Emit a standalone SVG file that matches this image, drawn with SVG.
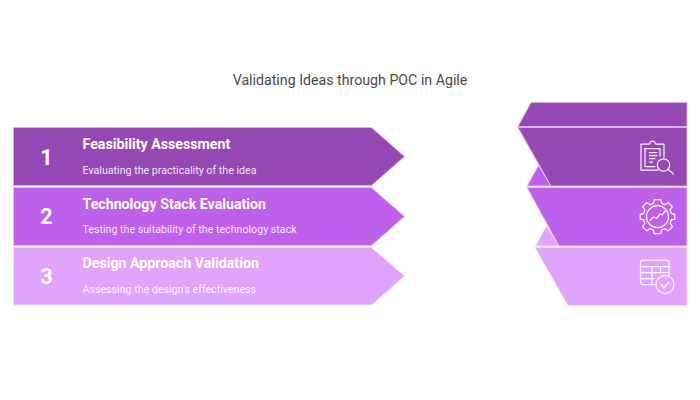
<svg xmlns="http://www.w3.org/2000/svg" width="700" height="400" viewBox="0 0 700 400">
<style>
text{font-family:Roboto,"Liberation Sans",sans-serif}
.title{font-size:14.2px;fill:#4a4a4a;text-anchor:middle}
.num{font-size:21.5px;font-weight:700;fill:#fff;text-anchor:middle}
.head{font-size:14.2px;font-weight:700;fill:#fff}
.sub{font-size:10.67px;fill:#fff;fill-opacity:.88}
.d{fill:#9649b5}.m{fill:#bd60ec}.l{fill:#e0a4fe}
.e1{stroke:#d5b6e2;stroke-width:1}.e2{stroke:#e5c4f8;stroke-width:1}.e3{stroke:#f2dcff;stroke-width:1}
.i{fill:none;stroke:#fff;stroke-opacity:.92;stroke-width:1.25;stroke-linecap:round;stroke-linejoin:round}
</style>
<rect width="700" height="400" fill="#fff"/>
<text class="title" x="350" y="85">Validating Ideas through POC in Agile</text>
<g id="back-shapes">
<path class="m e2" d="M527 186L538.500 165.500L551 186Z"/>
<path class="l e3" d="M535.500 246L546.500 226L559 246Z"/>
</g>
<g id="node-1">
<path class="d e1" d="M13.500 127.500H371.500L404.500 156.500L371.500 185.500H13.500Z"/>
<text class="num" x="46.500" y="164.500">1</text>
<text class="head" x="82.500" y="149">Feasibility Assessment</text>
<text class="sub" x="82.500" y="173.500">Evaluating the practicality of the idea</text>
</g>
<g id="node-2">
<path class="m e2" d="M13.500 187.500H371.500L404.500 216.500L371.500 245.500H13.500Z"/>
<text class="num" x="46.500" y="224">2</text>
<text class="head" x="82.500" y="208.500">Technology Stack Evaluation</text>
<text class="sub" x="82.500" y="233">Testing the suitability of the technology stack</text>
</g>
<g id="node-3">
<path class="l e3" d="M13.500 247.500H371.500L404.500 276L371.500 305H13.500Z"/>
<text class="num" x="46.500" y="283.500">3</text>
<text class="head" x="82.500" y="268">Design Approach Validation</text>
<text class="sub" x="82.500" y="293">Assessing the design's effectiveness</text>
</g>
<g id="panel-top">
<path class="d e1" d="M687 102.500H531L518 126.500H687Z"/>
</g>
<g id="panel-1">
<path class="d e1" d="M687 127.500H518L551 186H687Z"/>
<g class="i">
<path d="M646 144H641V170H658"/>
<path d="M645 148.500V166.500H655"/>
<path d="M645 148.500H660V156"/>
<path d="M646 144H649.500Q650 141 652.500 141Q655 141 655.500 144H664V157"/>
<path d="M649.500 152.500H657M649.500 155.500H657M649.500 158.500H655M649.500 162H652.500"/>
<circle cx="663.500" cy="165" r="6.200"/>
<path d="M668 169.500L673.500 174"/>
</g>
</g>
<g id="panel-2">
<path class="m e2" d="M687 187.500H527L559 246H687Z"/>
<g class="i">
<path transform="translate(657.500 216.700) scale(.93) translate(-657.500 -218.750)" stroke-width="1.350" d="M654 200.500H661L662 204.500L665.500 206L669 203.500L673.500 208L671 211.500L672.500 215.500L676 216V221.500L672.500 222L671 226L673.500 229.500L669 234L665.500 231.500L662 233L661 237H654L653 233L649.500 231.500L646 234L641.500 229.500L644 226L642.500 222L639 221.500V216L642.500 215.500L644 211.500L641.500 208L646 203.500L649.500 206L653 204.500Z"/>
<circle cx="657.500" cy="216.700" r="11"/>
<path d="M650 220.500L653.500 217L656.500 218.500L660 214L662 215L665.500 210.500"/>
</g>
</g>
<g id="panel-3">
<path class="l e3" d="M687 247.500H535L568 305.500H687Z"/>
<g class="i">
<path d="M655 284.500H643Q640.500 284.500 640.500 282V262.500Q640.500 260 643 260H666.500Q669 260 669 262.500V275"/>
<path d="M640.500 266.500H669M640.500 272.500H669M640.500 278.500H654M652 266.500V284.500M660.500 266.500V272.500"/>
<circle cx="665" cy="284.500" r="9"/>
<path d="M661 284.500L664 288L669 282"/>
</g>
</g>
</svg>
